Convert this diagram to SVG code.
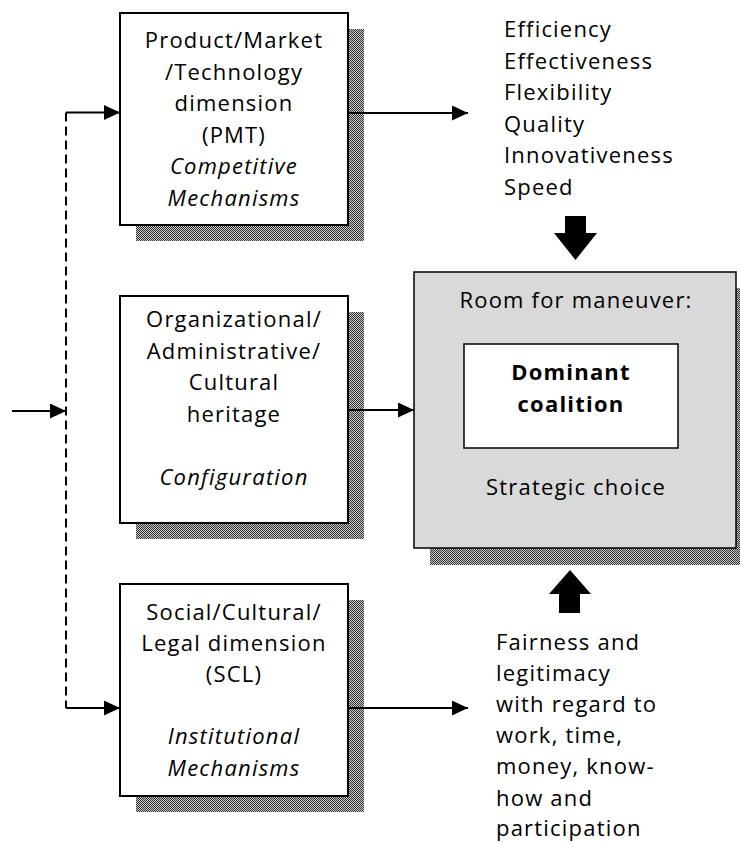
<svg xmlns="http://www.w3.org/2000/svg" width="740" height="842" viewBox="0 0 740 842">
<style>
text{font-family:"Open Sans","Noto Sans","Liberation Sans",sans-serif;font-size:22px;letter-spacing:1.2px;fill:#000}
.c{text-anchor:middle}
.i{font-style:italic}
.b{font-weight:bold}
.box{fill:#fff;stroke:#000;stroke-width:2}
.sh{fill:url(#dots)}
.ln{stroke:#000;stroke-width:2;fill:none}
.ds{stroke:#000;stroke-width:2;fill:none;stroke-dasharray:9 5}
</style>
<defs>
<pattern id="dots" width="2" height="2" patternUnits="userSpaceOnUse">
<rect width="2" height="2" fill="#c8c8c8"/>
<rect width="1" height="1" fill="#333"/>
<rect x="1" y="1" width="1" height="1" fill="#333"/>
</pattern>
<marker id="ah" viewBox="0 0 16 15" refX="16" refY="7.5" markerWidth="16" markerHeight="15" markerUnits="userSpaceOnUse" orient="auto">
<path d="M0,0 L16,7.5 L0,15 Z" fill="#000"/>
</marker>
</defs>

<g id="pmt">
<rect class="sh" x="136" y="29" width="228" height="212"/>
<rect class="box" x="120" y="13" width="228" height="212"/>
<text class="c" x="234" y="48">Product/Market</text>
<text class="c" x="234" y="79.5">/Technology</text>
<text class="c" x="234" y="111">dimension</text>
<text class="c" x="234" y="142.5">(PMT)</text>
<text class="c i" x="234" y="174">Competitive</text>
<text class="c i" x="234" y="205.5">Mechanisms</text>
</g>

<g id="oac">
<rect class="sh" x="136" y="312" width="228" height="227"/>
<rect class="box" x="120" y="296" width="228" height="227"/>
<text class="c" x="234" y="327">Organizational/</text>
<text class="c" x="234" y="358.5">Administrative/</text>
<text class="c" x="234" y="390">Cultural</text>
<text class="c" x="234" y="421.5">heritage</text>
<text class="c i" x="234" y="484.5">Configuration</text>
</g>

<g id="scl">
<rect class="sh" x="136" y="600" width="228" height="212"/>
<rect class="box" x="120" y="584" width="228" height="212"/>
<text class="c" x="234" y="620">Social/Cultural/</text>
<text class="c" x="234" y="651">Legal dimension</text>
<text class="c" x="234" y="682">(SCL)</text>
<text class="c i" x="234" y="744">Institutional</text>
<text class="c i" x="234" y="776">Mechanisms</text>
</g>

<g id="outcomes-top">
<text x="504" y="37">Efficiency</text>
<text x="504" y="68.6">Effectiveness</text>
<text x="504" y="100.2">Flexibility</text>
<text x="504" y="131.8">Quality</text>
<text x="504" y="163.4">Innovativeness</text>
<text x="504" y="195">Speed</text>
</g>

<g id="outcomes-bottom">
<text x="496" y="650">Fairness and</text>
<text x="496" y="681.1">legitimacy</text>
<text x="496" y="712.2">with regard to</text>
<text x="496" y="743.3">work, time,</text>
<text x="496" y="774.4">money, know-</text>
<text x="496" y="805.5">how and</text>
<text x="496" y="836.3">participation</text>
</g>

<g id="room">
<rect class="sh" x="430" y="288" width="322" height="277"/>
<rect x="414" y="272" width="322" height="276" fill="#d9d9d9" stroke="#000" stroke-width="1.5"/>
<text class="c" x="576" y="308">Room for maneuver:</text>
<rect x="464" y="344" width="214" height="104" fill="#fff" stroke="#000" stroke-width="1.5"/>
<text class="c b" x="571" y="380">Dominant</text>
<text class="c b" x="571" y="412">coalition</text>
<text class="c" x="576" y="495">Strategic choice</text>
</g>

<g id="connectors">
<path class="ds" d="M66,112.5 V708"/>
<path class="ln" d="M66,112.5 H120" marker-end="url(#ah)"/>
<path class="ln" d="M66,708 H120" marker-end="url(#ah)"/>
<path class="ln" d="M12,411 H66" marker-end="url(#ah)"/>
<path class="ln" d="M348,113 H468" marker-end="url(#ah)"/>
<path class="ln" d="M348,410 H414" marker-end="url(#ah)"/>
<path class="ln" d="M348,708 H468" marker-end="url(#ah)"/>
<path d="M565,216 H586 V233 H597 L575.5,260 L554,233 H565 Z" fill="#000"/>
<path d="M559,613 H580 V594 H591 L570,570 L549,594 H559 Z" fill="#000"/>
</g>
</svg>
